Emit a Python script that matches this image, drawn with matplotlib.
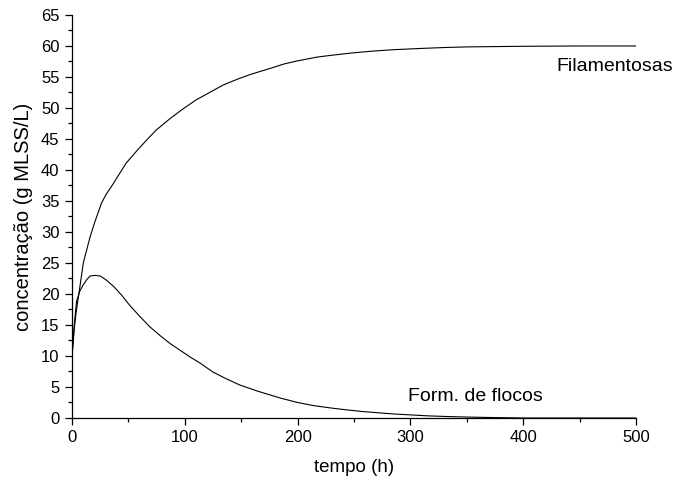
import matplotlib
matplotlib.use('Agg')
import matplotlib.pyplot as plt
from matplotlib.ticker import MultipleLocator

plt.rcParams['font.family'] = ['Liberation Sans', 'DejaVu Sans']

# biomassa filamentosa (g MLSS/L) ao longo do tempo (h)
t_fil = [0, 2, 4, 7, 10, 16, 20, 26, 30, 37, 40, 48, 57, 66, 75, 87, 98,
         110, 122, 134, 146, 158, 176, 188, 200, 217, 230, 247, 265, 285,
         309, 330, 350, 400, 450, 500]
c_fil = [10, 14.5, 17.5, 21.2, 25, 29.2, 31.5, 34.6, 36, 37.9, 38.8, 41.1,
         43, 44.8, 46.5, 48.3, 49.8, 51.3, 52.5, 53.7, 54.6, 55.4, 56.4,
         57.1, 57.6, 58.2, 58.5, 58.85, 59.15, 59.4, 59.6, 59.75, 59.85,
         59.95, 60, 60]

# formadoras de flocos
t_floc = [0, 2, 4, 7, 10, 13, 16, 20, 25, 30, 37, 44, 51, 60, 69, 78, 87,
          96, 105, 114, 125, 137, 149, 165, 185, 200, 214, 230, 244, 257,
          270, 285, 300, 315, 330, 350, 370, 400, 500]
c_floc = [10, 15, 18.8, 20.5, 21.5, 22.3, 22.9, 23, 22.9, 22.3, 21.2, 19.8,
          18.2, 16.4, 14.7, 13.3, 12.0, 10.9, 9.8, 8.8, 7.4, 6.3, 5.3, 4.3,
          3.2, 2.5, 2.0, 1.6, 1.3, 1.05, 0.86, 0.65, 0.5, 0.35, 0.25, 0.15,
          0.08, 0, 0]

fig = plt.figure(figsize=(6.75, 4.83), dpi=100)
ax = fig.add_axes([0.1067, 0.1346, 0.8355, 0.8344])

ax.plot(t_fil, c_fil, color='black', lw=0.8)
ax.plot(t_floc, c_floc, color='black', lw=0.8)

ax.text(429, 56.7, 'Filamentosas', fontsize=14, va='center', ha='left')
ax.text(298, 3.4, 'Form. de flocos', fontsize=14, va='center', ha='left')

ax.set_xlim(0, 500)
ax.set_ylim(0, 65)
ax.xaxis.set_major_locator(MultipleLocator(100))
ax.xaxis.set_minor_locator(MultipleLocator(50))
ax.yaxis.set_major_locator(MultipleLocator(5))
ax.yaxis.set_minor_locator(MultipleLocator(2.5))

for side in ('top', 'right'):
    ax.spines[side].set_visible(False)
for side in ('left', 'bottom'):
    ax.spines[side].set_linewidth(0.9)

ax.tick_params(which='major', direction='out', length=5, width=0.9,
               labelsize=12, pad=4)
ax.tick_params(which='minor', direction='out', length=3, width=0.9)

ax.set_xlabel('tempo (h)', fontsize=13.5, labelpad=10)
ax.set_ylabel('concentração (g MLSS/L)', fontsize=14.5, labelpad=6)

fig.savefig('out.png', dpi=100)
